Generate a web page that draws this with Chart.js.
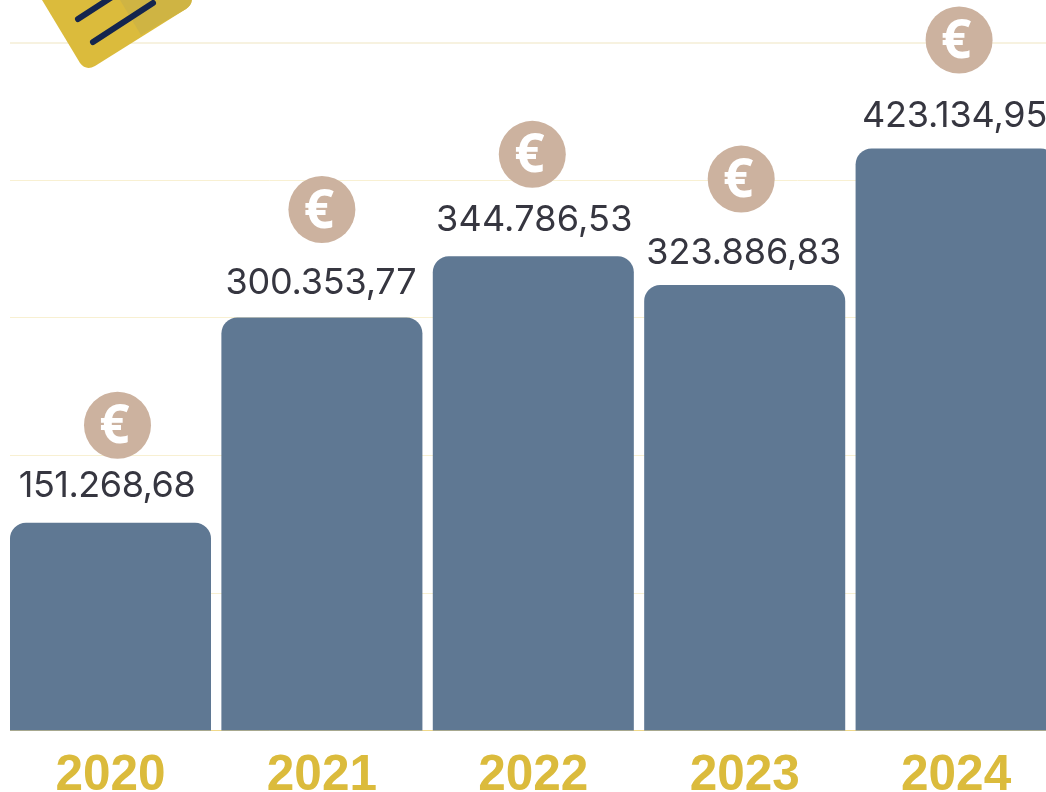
<!DOCTYPE html>
<html>
<head>
<meta charset="utf-8">
<style>
html,body{margin:0;padding:0;background:#fff;overflow:hidden;width:1046px;height:792px}
#wrap{position:absolute;left:0;top:0;width:1070px;height:792px;clip-path:inset(0 24px 0 10px)}
#icon{position:absolute;left:0;top:0}
</style>
<script src="https://cdn.jsdelivr.net/npm/chart.js@4"></script>
</head>
<body>
<div id="wrap"><canvas id="c" width="1070" height="792"></canvas></div>
<svg id="icon" width="220" height="80" viewBox="0 0 220 80">
  <path d="M36 -10 L80 63 Q86 71 95 66 L186 9 Q196 2 189 -10 Z" fill="#DBBB3C"/>
  <path d="M114 -10 L141 35 L186 9 Q196 2 189 -10 Z" fill="#CFB443"/>
  <path d="M78 19 L112 -3 M93 42 L153 3" stroke="#14254E" stroke-width="6" stroke-linecap="round" fill="none"/>
</svg>
<script>
const categories = ['2020', '2021', '2022', '2023', '2024'];
const amounts = [151268.68, 300353.77, 344786.53, 323886.83, 423134.95];
const valueLabels = ['151.268,68', '300.353,77', '344.786,53', '323.886,83', '423.134,95'];
const labelDx = [-3.5, -1, 1, -1, -1.5];
const labelGap = [26, 23.5, 25, 21, 21.5];
const labelSpacing = [-0.5, -0.2, 0.2, 0, -0.2];
const iconDx = [7, 0, -1, -3.5, 3];
const iconGap = [97.5, 108, 102, 106, 108.5];

const annotate = {
  id: 'annotate',
  afterDraw(chart) {
    const ctx = chart.ctx, x = chart.scales.x, y = chart.scales.y;
    ctx.save();
    categories.forEach((c, i) => {
      const px = x.getPixelForValue(i), py = y.getPixelForValue(amounts[i]);
      ctx.font = '400 36px Inter';
      ctx.letterSpacing = labelSpacing[i] + 'px';
      ctx.fillStyle = '#363640';
      ctx.textAlign = 'center';
      ctx.textBaseline = 'alphabetic';
      ctx.fillText(valueLabels[i], px + labelDx[i], py - labelGap[i]);
      ctx.letterSpacing = '0px';
      const cx = px + iconDx[i], cy = py - iconGap[i];
      ctx.beginPath();
      ctx.arc(cx, cy, 33.5, 0, Math.PI * 2);
      ctx.fillStyle = '#CCB29F';
      ctx.fill();
      ctx.font = '700 53px "Open Sans"';
      ctx.fillStyle = '#FFFFFF';
      ctx.textBaseline = 'middle';
      ctx.fillText('€', cx - 3, cy + 3);
    });
    ctx.restore();
  }
};

new Chart(document.getElementById('c'), {
  type: 'bar',
  data: {
    labels: categories,
    datasets: [{
      data: amounts,
      backgroundColor: '#5F7893',
      borderRadius: { topLeft: 16, topRight: 16, bottomLeft: 0, bottomRight: 0 },
      borderSkipped: 'bottom',
      categoryPercentage: 1,
      barPercentage: 0.951
    }]
  },
  plugins: [annotate],
  options: {
    responsive: false,
    animation: false,
    devicePixelRatio: 1,
    layout: { padding: { left: 4.8, right: 8.2, top: 42.7, bottom: 0 } },
    plugins: { legend: { display: false }, tooltip: { enabled: false }, title: { display: false } },
    scales: {
      x: {
        grid: { display: false },
        border: { display: false },
        ticks: { color: '#DBBB3C', font: { family: '"Liberation Sans"', size: 49.5, weight: '700' }, padding: 7.5, maxRotation: 0 },
        afterFit(s) { s.height = 61.1; }
      },
      y: {
        min: 0, max: 500000,
        ticks: { display: false, stepSize: 100000 },
        border: { display: false },
        grid: {
          color: ctx => ctx.tick && ctx.tick.value === 0 ? '#F0D98A' : (ctx.tick && ctx.tick.value === 500000 ? '#F7F2E0' : '#F8F0D2'),
          lineWidth: ctx => ctx.tick && ctx.tick.value === 500000 ? 2 : 1,
          drawTicks: false
        }
      }
    }
  }
});
</script>
</body>
</html>
